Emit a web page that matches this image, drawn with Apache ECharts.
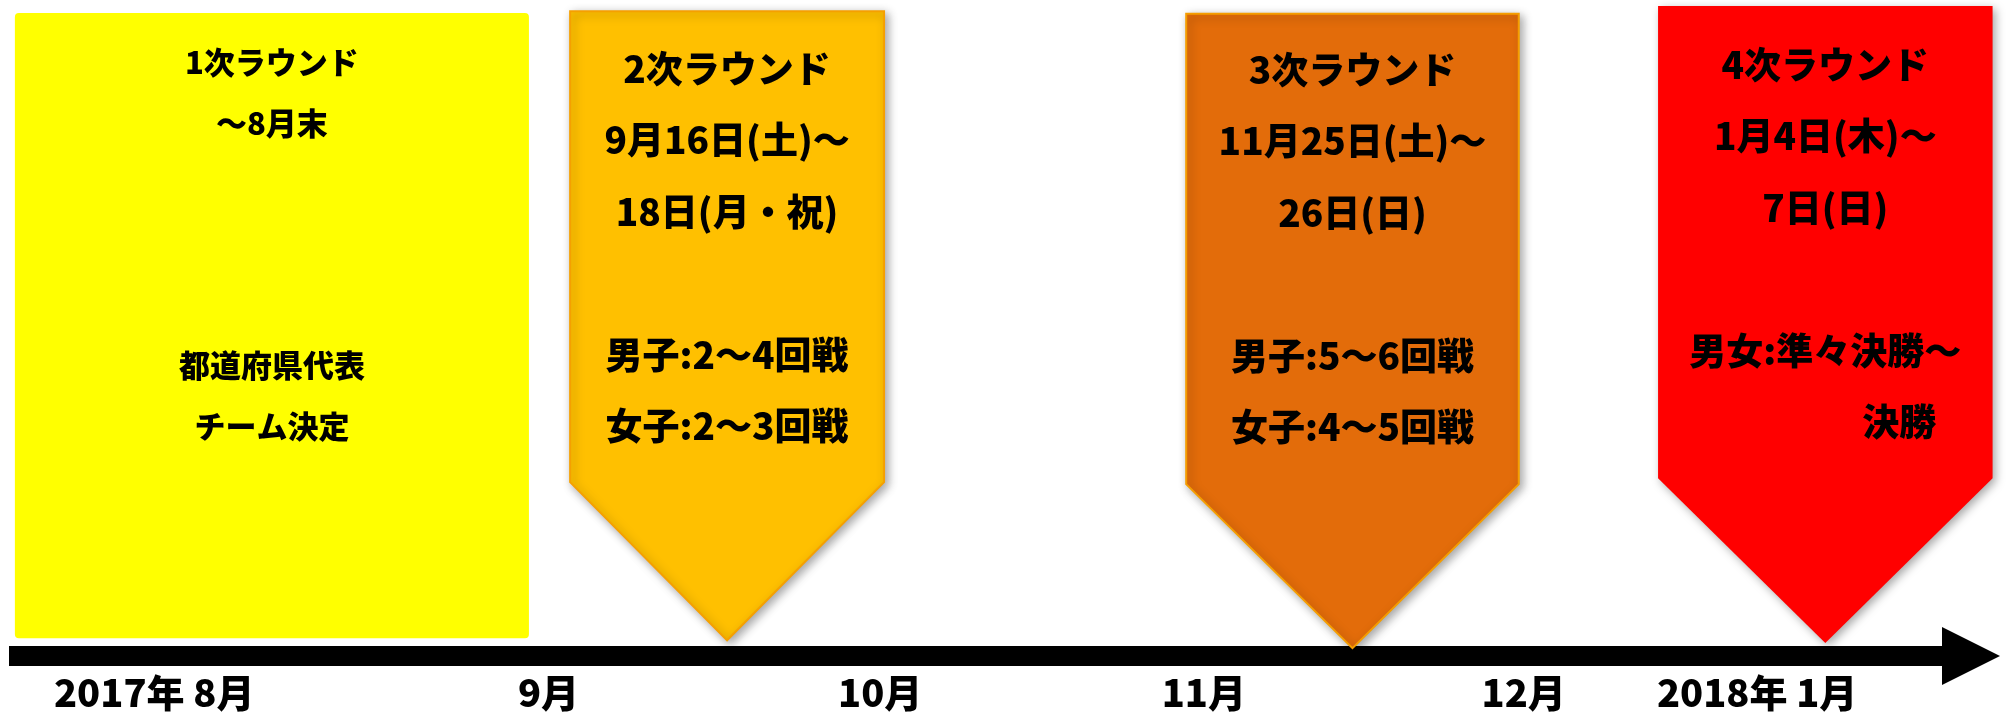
<!DOCTYPE html>
<html>
<head>
<meta charset="utf-8">
<script src="https://cdn.jsdelivr.net/npm/echarts@6/dist/echarts.min.js"></script>
<style>
html, body { margin: 0; padding: 0; background: #ffffff; }
#chart { width: 2007px; height: 717px; }
</style>
</head>
<body>
<div id="chart"></div>
<script>
// ---- data (schematic timeline position 0-100, height 0-100) ----
const monthTicks = [7.4, 27.5, 44.4, 60.9, 77.2, 89.1];
const monthLabels = ['2017年 8月', '9月', '10月', '11月', '12月', '2018年 1月'];

const roundNames = ['1次ラウンド', '2次ラウンド', '3次ラウンド', '4次ラウンド'];
const roundDates = [
  ['～8月末'],
  ['9月16日(土)～', '18日(月・祝)'],
  ['11月25日(土)～', '26日(日)'],
  ['1月4日(木)～', '7日(日)']
];
const roundDetails = [
  ['都道府県代表', 'チーム決定'],
  ['男子:2～4回戦', '女子:2～3回戦'],
  ['男子:5～6回戦', '女子:4～5回戦'],
  ['男女:準々決勝～', '　　　　決勝']
];
const roundStart = [0.3, 28.6, 60.0, 84.05];
const roundEnd = [26.5, 44.6, 76.95, 101.1];
const roundTop = [98.0, 98.3, 97.9, 99.1];
const roundShoulder = [null, 26.5, 26.2, 27.1];
const roundBottom = [2.7, 2.4, 1.2, 2.0];

// ---- styles ----
const roundFill = ['#FFFF00', '#FFC000', '#E36C0A', '#FF0000'];
const roundStroke = [null, '#F5A000', '#F59D00', null];
const textStyleSet = [
  { fontSize: 31, lineHeight: 60.6, detailRow: 5, pad: 19 },
  { fontSize: 37, lineHeight: 71.5, detailRow: 4, pad: 22 },
  { fontSize: 37, lineHeight: 71.5, detailRow: 4, pad: 20 },
  { fontSize: 37, lineHeight: 71.5, detailRow: 4, pad: 23 }
];
const FONT = '"Noto Sans CJK JP", "Noto Sans", sans-serif';
const WEIGHT = 900;

const seriesData = roundNames.map(function (n, i) {
  return [roundStart[i], roundEnd[i], roundTop[i], roundShoulder[i] == null ? -1 : roundShoulder[i], roundBottom[i], i];
});

function renderItem(params, api) {
  const i = api.value(5);
  const x0 = api.value(0), x1 = api.value(1);
  const top = api.value(2), shoulder = api.value(3), bottom = api.value(4);
  const pTL = api.coord([x0, top]);
  const pTR = api.coord([x1, top]);
  const pBR = api.coord([x1, bottom]);
  const cx = (pTL[0] + pTR[0]) / 2;
  const children = [];
  if (shoulder < 0) {
    children.push({
      type: 'rect',
      shape: { x: pTL[0], y: pTL[1], width: pTR[0] - pTL[0], height: pBR[1] - pTL[1], r: 4 },
      style: { fill: roundFill[i] }
    });
  } else {
    const pS = api.coord([x0, shoulder]);
    const pTip = api.coord([(x0 + x1) / 2, bottom]);
    children.push({
      type: 'polygon',
      shape: { points: [pTL, pTR, [pTR[0], pS[1]], pTip, [pTL[0], pS[1]]] },
      style: {
        fill: roundFill[i],
        stroke: roundStroke[i] || roundFill[i],
        lineWidth: roundStroke[i] ? 2 : 0,
        shadowBlur: 10,
        shadowColor: 'rgba(0,0,0,0.35)',
        shadowOffsetX: 3,
        shadowOffsetY: 3
      }
    });
  }
  const ts = textStyleSet[i];
  const lines = [roundNames[i]].concat(roundDates[i]);
  while (lines.length < ts.detailRow) lines.push('');
  const allLines = lines.concat(roundDetails[i]);
  children.push({
    type: 'text',
    x: cx,
    y: pTL[1] + ts.pad,
    style: {
      text: allLines.join('\n'),
      fill: '#000000',
      fontSize: ts.fontSize,
      fontWeight: WEIGHT,
      fontFamily: FONT,
      align: 'center',
      verticalAlign: 'top',
      lineHeight: ts.lineHeight
    }
  });
  return { type: 'group', children: children };
}

const chart = echarts.init(document.getElementById('chart'), null, { renderer: 'canvas' });
chart.setOption({
  backgroundColor: '#ffffff',
  animation: false,
  grid: { left: 9, right: 36, top: 0, bottom: 61, containLabel: false, outerBoundsMode: 'none' },
  xAxis: {
    type: 'value',
    min: 0,
    max: 100,
    splitLine: { show: false },
    axisTick: { show: false },
    axisLine: {
      show: true,
      onZero: false,
      symbol: ['none', 'triangle'],
      symbolSize: [58, 58],
      lineStyle: { color: '#000000', width: 20, cap: 'butt' }
    },
    axisLabel: {
      customValues: monthTicks,
      margin: 18,
      color: '#000000',
      fontSize: 38,
      fontWeight: WEIGHT,
      fontFamily: FONT,
      lineHeight: 38,
      hideOverlap: false,
      formatter: function (v) {
        const k = monthTicks.indexOf(v);
        return k >= 0 ? monthLabels[k] : '';
      }
    }
  },
  yAxis: { type: 'value', min: 0, max: 100, show: false },
  series: [{
    type: 'custom',
    renderItem: renderItem,
    clip: false,
    encode: { x: [0, 1], y: [2, 4] },
    data: seriesData
  }]
});
</script>
</body>
</html>
